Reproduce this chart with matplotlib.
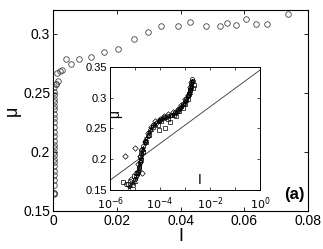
import numpy as np
import matplotlib
matplotlib.use("Agg")
import matplotlib.pyplot as plt

plt.rcParams["font.family"] = ["Liberation Sans", "DejaVu Sans"]

# main panel: mu vs I (open circles)
main_I = [0.0736, 0.0672, 0.0636, 0.0605, 0.0575, 0.0547, 0.0524, 0.0480,
          0.0431, 0.0391, 0.0340, 0.0297, 0.0254, 0.0204, 0.0161, 0.0119,
          0.0082, 0.0055, 0.0042, 0.0029, 0.0022, 0.0013, 0.0017, 0.0010,
          0.0008, 0.0004,
          0.0003, 0.0002, 0.0003, 0.0002, 0.0002, 0.0003, 0.0002, 0.0002,
          0.0003, 0.0002, 0.0002, 0.0002, 0.0003, 0.0002, 0.0002, 0.0002,
          0.0002, 0.0003, 0.0002, 0.0002, 0.0002, 0.0002, 0.0002, 0.0002,
          0.0002, 0.0002, 0.0002]
main_mu = [0.317, 0.308, 0.3085, 0.312, 0.307, 0.3087, 0.3065, 0.3062,
           0.3096, 0.3065, 0.3062, 0.3017, 0.2955, 0.2873, 0.2845, 0.2805,
           0.2782, 0.274, 0.2788, 0.2689, 0.2684, 0.2667, 0.2597, 0.257,
           0.2575, 0.255,
           0.251, 0.248, 0.245, 0.242, 0.239, 0.236, 0.232, 0.229,
           0.225, 0.221, 0.217, 0.213, 0.209, 0.206, 0.203, 0.200,
           0.197, 0.194, 0.191, 0.188, 0.184, 0.180, 0.176, 0.172,
           0.165, 0.1655, 0.1645]

# inset: log10(I) and mu for each marker family
circ_logI = [-5.35, -5.2, -5.1, -5.0, -4.95, -4.9, -4.85, -4.82, -4.8, -4.78,
             -4.75, -4.7, -4.6, -4.5, -4.4, -4.3, -4.15, -4.0, -3.85, -3.7,
             -3.55, -3.4, -3.3, -3.2, -3.1, -3.0, -2.95, -2.9, -2.85, -2.8,
             -2.78, -2.75, -2.73, -2.72, -2.7]
circ_mu = [0.160, 0.165, 0.158, 0.168, 0.172, 0.180, 0.188, 0.196, 0.203, 0.210,
           0.215, 0.222, 0.230, 0.238, 0.248, 0.255, 0.259, 0.263, 0.268, 0.270,
           0.272, 0.276, 0.280, 0.284, 0.289, 0.294, 0.298, 0.303, 0.308, 0.313,
           0.318, 0.322, 0.326, 0.330, 0.328]

sq_logI = [-5.5, -5.3, -5.05, -4.92, -4.85, -4.78, -4.7, -4.55, -4.45, -4.3,
           -4.1, -4.05, -3.95, -3.82, -3.7, -3.6, -3.45, -3.35, -3.25, -3.1,
           -3.0, -2.9, -2.85, -2.8, -2.7, -2.65]
sq_mu = [0.163, 0.160, 0.172, 0.178, 0.186, 0.198, 0.212, 0.228, 0.240, 0.252,
         0.256, 0.247, 0.262, 0.250, 0.266, 0.260, 0.272, 0.270, 0.279, 0.284,
         0.290, 0.298, 0.306, 0.312, 0.316, 0.320]

dia_logI = [-5.42, -5.02, -4.71, -5.15, -4.95, -4.88, -4.8, -4.72, -4.6, -4.5,
            -4.35, -4.2, -4.0, -3.85, -3.7, -3.5, -3.3, -3.15, -3.0, -2.9,
            -2.8, -2.75]
dia_mu = [0.206, 0.218, 0.178, 0.168, 0.178, 0.192, 0.205, 0.215, 0.228, 0.242,
          0.252, 0.262, 0.266, 0.270, 0.273, 0.277, 0.281, 0.288, 0.298, 0.305,
          0.318, 0.325]

star_logI = [-5.25, -5.1, -4.98, -4.9, -4.86, -4.82, -4.78, -4.74, -4.68, -4.62,
             -4.55, -4.45, -4.35, -4.25, -4.1, -3.95, -3.8, -3.65, -3.5, -3.38,
             -3.25, -3.12, -3.02, -2.92, -2.86, -2.8, -2.76, -2.74]
star_mu = [0.155, 0.162, 0.170, 0.176, 0.184, 0.192, 0.200, 0.208, 0.218, 0.226,
           0.234, 0.244, 0.250, 0.258, 0.262, 0.265, 0.268, 0.271, 0.274, 0.277,
           0.282, 0.287, 0.293, 0.300, 0.308, 0.315, 0.321, 0.327]

tri_logI = [-5.2, -5.0, -4.9, -4.84, -4.8, -4.76, -4.7, -4.6, -4.48, -4.38,
            -4.22, -4.05, -3.9, -3.75, -3.58, -3.42, -3.28, -3.15, -3.05, -2.95,
            -2.88, -2.82, -2.77]
tri_mu = [0.158, 0.165, 0.182, 0.190, 0.198, 0.206, 0.216, 0.232, 0.240, 0.249,
          0.257, 0.264, 0.267, 0.269, 0.272, 0.275, 0.278, 0.286, 0.291, 0.296,
          0.304, 0.310, 0.318]

# reference line in the inset
line_I = [1e-6, 1e0]
line_mu = [0.166, 0.345]

fig = plt.figure(figsize=(3.23, 2.49), dpi=100)

# ── main axes ──
ax = fig.add_axes([0.164, 0.153, 0.790, 0.807])
ax.plot(main_I, main_mu, "o", mfc="none", mec="#444444", ms=4.0, mew=0.6)
ax.set_xlim(0, 0.08)
ax.set_ylim(0.15, 0.32)
ax.set_xticks([0, 0.02, 0.04, 0.06, 0.08])
ax.set_xticklabels(["0", "0.02", "0.04", "0.06", "0.08"])
ax.set_yticks([0.15, 0.2, 0.25, 0.3])
ax.set_yticklabels(["0.15", "0.2", "0.25", "0.3"])
ax.tick_params(direction="in", top=True, right=True, length=3, width=0.6,
               labelsize=10, pad=2)
for s in ax.spines.values():
    s.set_linewidth(0.8)
ax.set_xlabel("I", fontsize=13, labelpad=0)
ax.set_ylabel("μ", fontsize=13, labelpad=2)
ax.text(0.985, 0.045, "(a)", transform=ax.transAxes, ha="right", va="bottom",
        fontsize=12, fontweight="bold")

# ── inset ──
ins = fig.add_axes([0.341, 0.237, 0.464, 0.494])
ins.set_xscale("log")
ins.plot(line_I, line_mu, "-", color="#333333", lw=0.6, zorder=1)
mk = dict(ls="none", mfc="none", mec="black", mew=0.5, zorder=2)
ins.plot(np.power(10.0, sq_logI), sq_mu, "s", ms=3.0, **mk)
ins.plot(np.power(10.0, dia_logI), dia_mu, "D", ms=2.8, **mk)
ins.plot(np.power(10.0, circ_logI), circ_mu, "o", ms=3.0, **mk)
ins.plot(np.power(10.0, tri_logI), tri_mu, "^", ms=3.0, **mk)
ins.plot(np.power(10.0, star_logI), star_mu, "*", ms=3.4, **mk)
ins.set_xlim(1e-6, 1e0)
ins.set_ylim(0.15, 0.35)
ins.set_xticks([1e-6, 1e-5, 1e-4, 1e-3, 1e-2, 1e-1, 1e0])
ins.set_xticklabels(["$10^{-6}$", "", "$10^{-4}$", "", "$10^{-2}$", "", "$10^{0}$"])
ins.xaxis.set_minor_locator(matplotlib.ticker.NullLocator())
ins.set_yticks([0.15, 0.2, 0.25, 0.3, 0.35])
ins.set_yticklabels(["0.15", "0.2", "0.25", "0.3", "0.35"])
ins.tick_params(direction="in", top=True, right=True, length=2.5, width=0.5,
                labelsize=8, pad=2)
ins.tick_params(axis="x", pad=4)
for s in ins.spines.values():
    s.set_linewidth(0.7)
ins.text(0.035, 0.62, "μ", transform=ins.transAxes, rotation=90,
         ha="center", va="center", fontsize=10)
ins.text(0.6, 0.08, "I", transform=ins.transAxes, ha="center", va="center",
         fontsize=10)

fig.savefig("out.png", dpi=100)
